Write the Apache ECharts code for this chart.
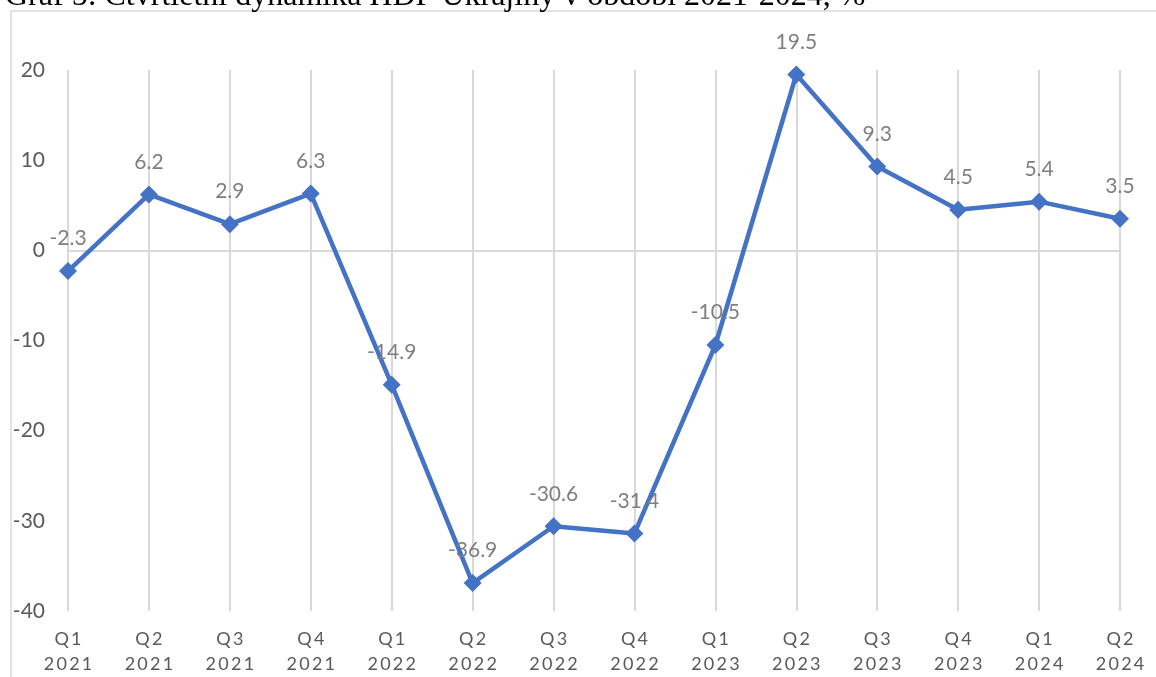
<!DOCTYPE html>
<html>
<head>
<meta charset="utf-8">
<script src="https://cdn.jsdelivr.net/npm/echarts@6/dist/echarts.min.js"></script>
<style>
  html, body { margin: 0; padding: 0; background: #fff; }
  #chart { width: 1156px; height: 677px; }
</style>
</head>
<body>
<div id="chart"></div>
<script>
const quarters = ["Q1", "Q2", "Q3", "Q4", "Q1", "Q2", "Q3", "Q4", "Q1", "Q2", "Q3", "Q4", "Q1", "Q2"]
const years = ["2021", "2021", "2021", "2021", "2022", "2022", "2022", "2022", "2023", "2023", "2023", "2023", "2024", "2024"]
const gdpGrowth = [-2.3, 6.2, 2.9, 6.3, -14.9, -36.9, -30.6, -31.4, -10.5, 19.5, 9.3, 4.5, 5.4, 3.5]
const yTicks = [-40, -30, -20, -10, 0, 10, 20]

const categories = quarters.map((q, i) => q + " " + years[i])
const gridColor = "#d9d9d9"
const lineColor = "#4472c4"

// spread letters a little, like the Excel axis labels
const spaced = s => s.split("").join("\u2009")

const chart = echarts.init(document.getElementById("chart"))

chart.setOption({
  animation: false,
  title: {
    text: "Graf 5: Čtvrtletní dynamika HDP Ukrajiny v období 2021-2024, %",
    left: 0,
    top: -24,
    textStyle: {
      fontFamily: "Liberation Serif",
      fontSize: 32,
      fontWeight: "normal",
      color: "#000",
    },
  },
  graphic: [
    {
      type: "rect",
      z: -10,
      silent: true,
      shape: { x: 11, y: 11, width: 1300, height: 800 },
      style: { fill: "none", stroke: gridColor, lineWidth: 1.5 },
    },
  ],
  grid: { left: 68, right: 36, top: 70, bottom: 65 },
  xAxis: {
    type: "category",
    data: categories,
    boundaryGap: false,
    axisLine: { show: false },
    axisTick: { show: false },
    splitLine: { show: true, lineStyle: { color: gridColor, width: 2 } },
    axisLabel: {
      margin: 16,
      fontFamily: "Lato",
      fontSize: 18,
      lineHeight: 25,
      color: "#595959",
      formatter: v => {
        const [q, y] = v.split(" ")
        return spaced(q) + "\n" + spaced(y)
      },
    },
  },
  yAxis: {
    type: "value",
    min: yTicks[0],
    max: yTicks[yTicks.length - 1],
    interval: 10,
    axisLine: { show: false },
    axisTick: { show: false },
    axisLabel: { margin: 23, fontFamily: "Lato", fontSize: 21, color: "#595959" },
    splitLine: {
      show: true,
      lineStyle: {
        width: 2,
        color: yTicks.map(t => (t === 0 ? gridColor : "rgba(0,0,0,0)")),
      },
    },
  },
  series: [
    {
      type: "line",
      data: gdpGrowth,
      symbol: "diamond",
      symbolSize: 18,
      lineStyle: { color: lineColor, width: 4.5 },
      itemStyle: { color: lineColor },
      label: {
        show: true,
        position: "top",
        distance: 13,
        fontFamily: "Lato",
        fontSize: 21,
        color: "#7f7f7f",
        formatter: p => p.value.toFixed(1),
      },
    },
  ],
})
</script>
</body>
</html>
